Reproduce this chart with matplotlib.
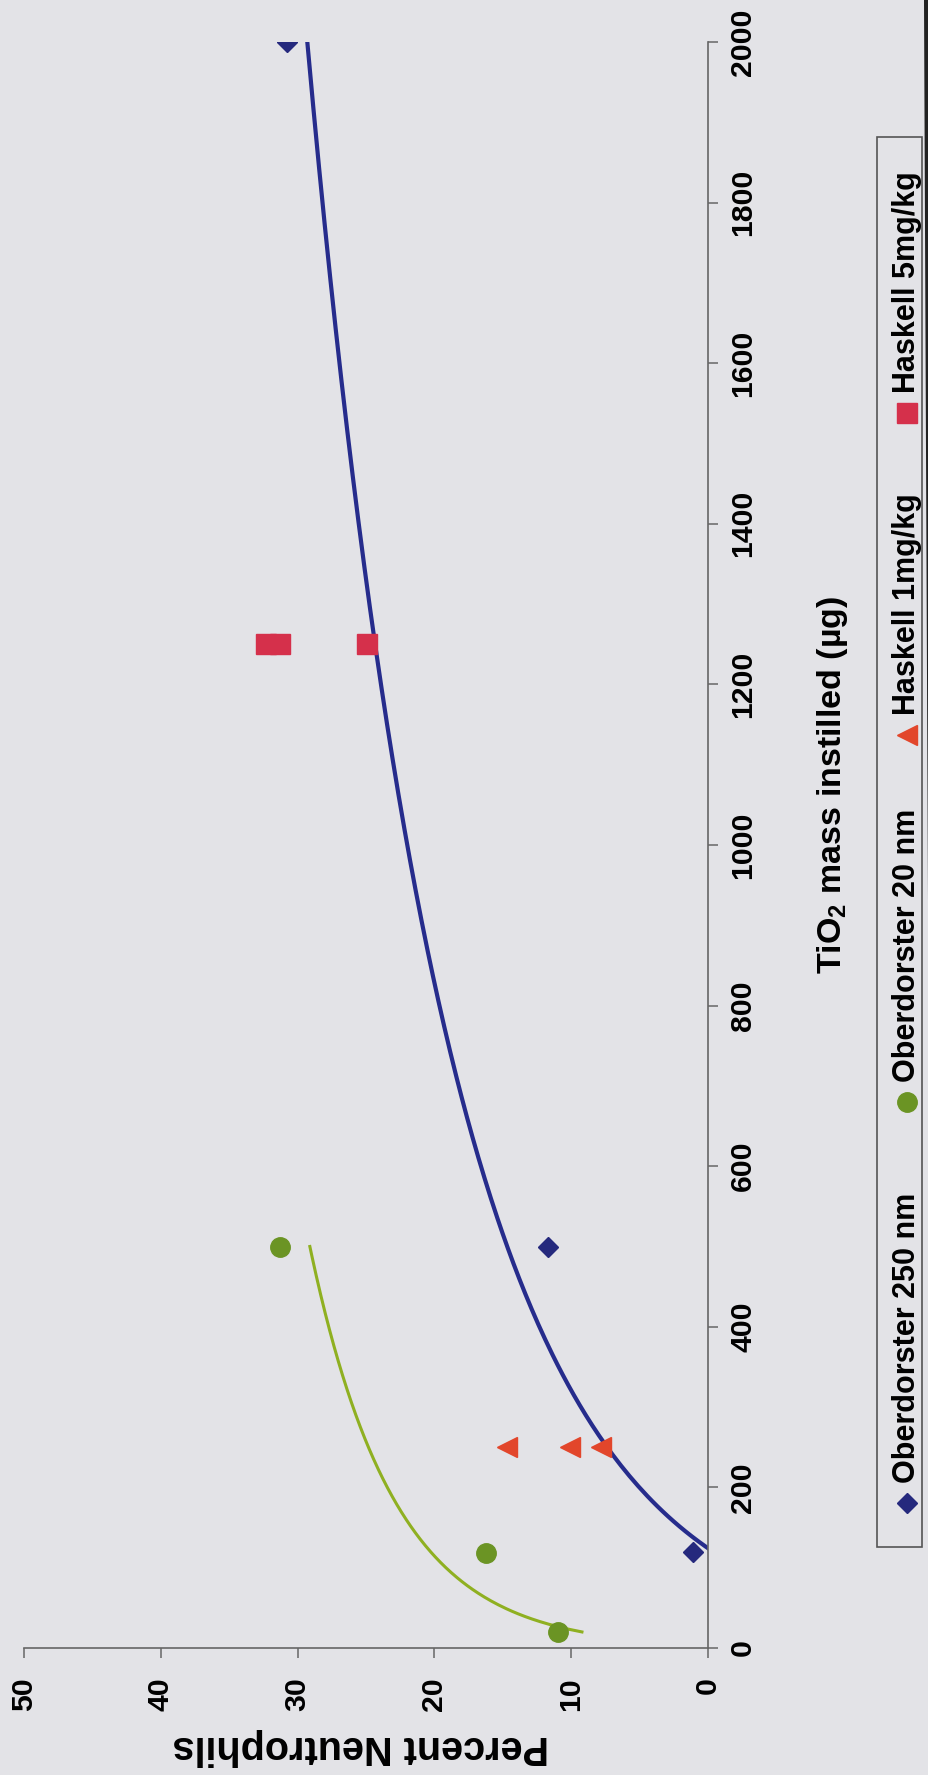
import numpy as np
import matplotlib
matplotlib.use("Agg")
import matplotlib.pyplot as plt
from matplotlib.patches import Rectangle, Polygon

# TiO2 dose vs. neutrophil response (page is laid out turned on its side)
mass_250nm = [120, 500, 2000]
neut_250nm = [1.1, 11.7, 30.8]

mass_20nm = [20, 118, 500]
neut_20nm = [11.0, 16.2, 31.3]

mass_h1 = [250, 250, 250]
neut_h1 = [14.7, 10.1, 7.8]

mass_h5 = [1250, 1250, 1250]
neut_h5 = [32.3, 31.3, 24.9]

neut_ticks = [0, 10, 20, 30, 40, 50]
mass_ticks = list(range(0, 2001, 200))

labels = ["Oberdorster 250 nm", "Oberdorster 20 nm", "Haskell 1mg/kg", "Haskell 5mg/kg"]

plt.rcParams["font.family"] = ["Liberation Sans", "DejaVu Sans"]
plt.rcParams["font.weight"] = "bold"
plt.rcParams["mathtext.fontset"] = "custom"
plt.rcParams["mathtext.rm"] = "Liberation Sans:bold"
plt.rcParams["mathtext.bf"] = "Liberation Sans:bold"

bg = "#e3e3e7"
axis_col = "#666666"

styles = [
    dict(marker="D", color="#25297d", ms=10.2, ls="none"),
    dict(marker="o", color="#6b9424", ms=14.0, ls="none"),
    dict(marker="<", color="#e2462b", ms=15.0, ls="none"),
    dict(marker="s", color="#d5304b", ms=14.4, ls="none"),
]

W, H = 929, 1775
fig = plt.figure(figsize=(W / 100, H / 100), dpi=100)
fig.patch.set_facecolor(bg)

# horizontal = percent neutrophils (50 on the left), vertical = mass
ax = fig.add_axes([24 / W, 1 - 1648 / H, (708 - 24) / W, (1648 - 42) / H])
ax.patch.set_alpha(0)


def log_trend(x, y):
    a, b = np.polyfit(np.log(x), y, 1)
    xs = np.linspace(min(x), max(x), 300)
    return xs, a * np.log(xs) + b


xs, ys = log_trend(mass_20nm, neut_20nm)
ax.plot(ys, xs, color="#8fb021", lw=2.2)
xs, ys = log_trend(mass_250nm, neut_250nm)
ax.plot(ys, xs, color="#262c8c", lw=3.0)

series = [(neut_250nm, mass_250nm), (neut_20nm, mass_20nm), (neut_h1, mass_h1), (neut_h5, mass_h5)]
for (n, m), st in zip(series, styles):
    ax.plot(n, m, zorder=3, **st)

ax.set_xlim(50, 0)
ax.set_ylim(0, 2000)
ax.set_xticks(neut_ticks)
ax.set_yticks(mass_ticks)
ax.yaxis.tick_right()
for s in ["left", "top"]:
    ax.spines[s].set_visible(False)
for s in ["right", "bottom"]:
    ax.spines[s].set_color(axis_col)
    ax.spines[s].set_linewidth(1.2)
ax.tick_params(axis="both", direction="out", length=7.2, width=1.1,
               color=axis_col, labelsize=21.7)
ax.tick_params(axis="x", pad=14, labelrotation=90)
ax.tick_params(axis="y", pad=8, labelrotation=90)
for lbl in ax.get_yticklabels():
    lbl.set_va("center")

# overlay in pixel units for titles and the legend strip
lax = fig.add_axes([0, 0, 1, 1])
lax.set_xlim(0, W)
lax.set_ylim(H, 0)
lax.axis("off")
lax.patch.set_alpha(0)

lax.text(361, 1747, "Percent Neutrophils", rotation=180, ha="center",
         va="center", fontsize=28.5)
lax.text(833, 785, "TiO$_\\mathbf{2}$ mass instilled (µg)", rotation=90,
         ha="center", va="center", fontsize=24.5)

lax.add_patch(Rectangle((877, 137), 45, 1410, fill=False, ec="#555555", lw=1.2))
key_y = [1503, 1102, 735, 413]
for lab, st, ky in zip(labels, styles, key_y):
    lax.plot([907], [ky], **st)
    lax.text(907, ky - 20, lab, rotation=90, ha="center", va="bottom", fontsize=22)

# dark scanner edge on the right
lax.add_patch(Polygon([[924, 0], [929, 0], [929, 900], [928, 900]], closed=True,
                      color="#222222", lw=0))

fig.savefig("out.png", dpi=100, facecolor=bg)
